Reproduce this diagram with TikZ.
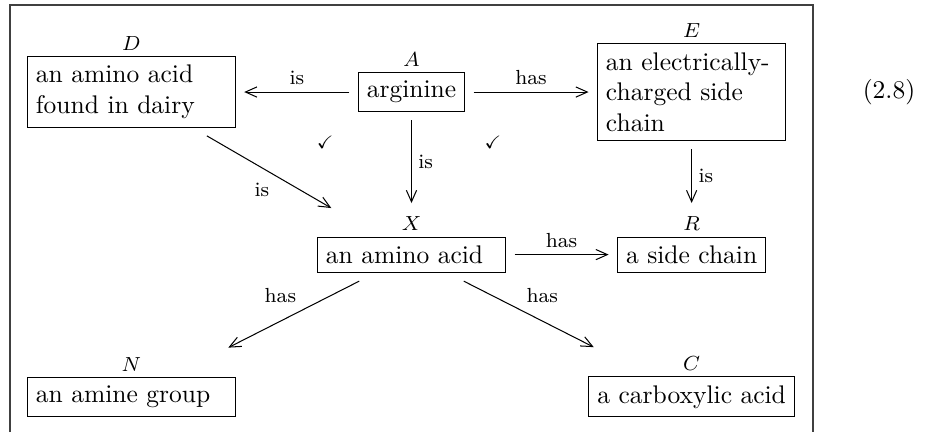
\documentclass[tikz,border=0pt]{standalone}
\usepackage{tikz}
\usepackage{amssymb}
\usetikzlibrary{positioning}
\usetikzlibrary{arrows.meta}
\tikzstyle{concept} = [
	draw,
	align=left,
	inner sep=3.33pt
]
\tikzstyle{letter} = [
	font=\footnotesize,
	inner sep=2pt
]
\tikzstyle{rel} = [
	draw,
	-{Straight Barb[length=4.5pt,width=4pt]},
	shorten <=3.3pt,
	shorten >=3.3pt
]
\tikzstyle{relname} = [
	font=\footnotesize,
	inner sep=2.5pt
]

\begin{document}
\begin{tikzpicture}[on grid, node distance=2.24cm and 3.86cm]
	
	%
	% Page size and open frame
	\useasboundingbox (-5.67,-4.685) rectangle (7.434,1.268);
	\draw[line width=0.6pt, black!75] (-5.533,-4.685) -- (-5.533,1.199) -- (5.533,1.199) -- (5.533,-4.685);
	
	% Top row
	\node[concept, label={[letter, name=Al]above:$A$}] (A) {arginine};
	\node[concept, text width=2.63cm, label={[letter, name=Dl]above:$D$}, left=of A] (D) {an amino acid\\found in dairy};
	\node[concept, text width=2.36cm, label={[letter, name=El]above:$E$}, right=of A] (E) {an electrically-\\charged side\\chain};
	
	% Middle row
	\node[concept, text width=2.36cm, label={[letter, name=Xl]above:$X$}, below=of A] (X) {an amino acid};
	\node[concept, label={[letter, name=Rl]above:$R$}, right=of X] (R) {a side chain};
	
	% Bottom row
	\node[concept, text width=2.63cm, label={[letter, name=Nl]above:$N$}, below left=1.96cm and 3.86cm of X] (N) {an amine group};
	\node[concept, label={[letter, name=Cl]above:$C$}, below right=1.96cm and 3.86cm of X] (C) {a carboxylic acid};
	
	% Ticks and equation number
	\node[below left=0.70cm and 1.19cm of A] (tickD) {\scriptsize$\checkmark$};
	\node[below right=0.70cm and 1.12cm of A] (tickE) {\scriptsize$\checkmark$};
	\node[right=6.58cm of A] (eqno) {(2.8)};
	
	% Relations
	\draw[rel] (A) -- node[relname, above] (isAD) {is} (D);
	\draw[rel] (A) -- node[relname, above] (hasAE) {has} (E);
	\draw[rel] (A) -- node[relname, right] (isAX) {is} (Xl);
	\draw[rel] (E) -- node[relname, right] (isER) {is} (Rl);
	\draw[rel, shorten <=6.3pt, shorten >=22.3pt] (D) -- node[relname, pos=0.443, below left] (isDX) {is} (X);
	\draw[rel] (X) -- node[relname, above] (hasXR) {has} (R);
	\draw[rel, shorten <=7.4pt, shorten >=25.3pt] (X) -- node[relname, pos=0.356, above left] (hasXN) {has} (N);
	\draw[rel, shorten <=7.4pt, shorten >=25.3pt] (X) -- node[relname, pos=0.356, above right] (hasXC) {has} (C);
	
\end{tikzpicture}
\end{document}
